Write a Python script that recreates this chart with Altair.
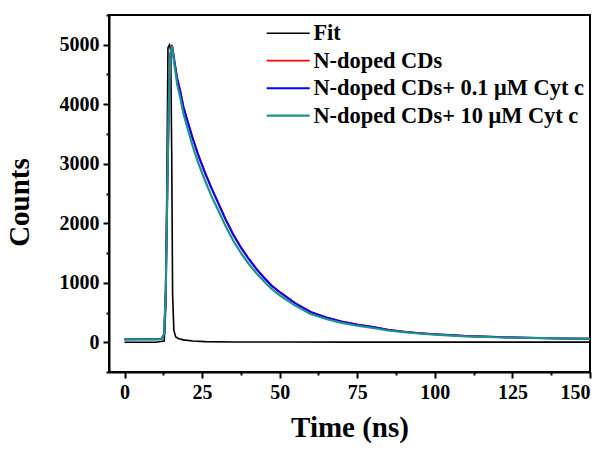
import altair as alt
import pandas as pd

# ---- data ----
labels = ["Fit", "N-doped CDs", "N-doped CDs+ 0.1 \u03bcM Cyt c", "N-doped CDs+ 10 \u03bcM Cyt c"]
colors = ["#000000", "#ff0000", "#0000ff", "#1f9188"]
widths = [1.6, 2.2, 2.2, 3.0]

t_irf = [0, 5, 10, 12.8, 13.3, 13.7, 14.0, 14.5, 14.9, 15.2, 15.5, 15.9, 16.5, 17.5, 19,
         22, 26, 35, 50, 75, 100, 125, 150]
c_irf = [0, 0, 0, 20, 600, 3000, 4950, 5000, 4900, 3200, 800, 200, 90, 60, 40,
         20, 10, 5, 3, 2, 2, 2, 2]

t_dec = [0, 5, 10, 12, 12.8, 13.3, 13.8, 14.3, 14.8, 15.3, 16, 17, 18, 19, 20, 22, 24, 26,
         28, 30, 32.5, 35, 37.5, 40, 42.5, 45, 47.5, 50, 55, 60, 65, 70, 75, 80, 85, 90,
         95, 100, 110, 120, 130, 140, 150]
c_cds = [50, 52, 50, 55, 150, 900, 2600, 4100, 4850, 5000, 4730, 4430, 4230, 3960, 3780,
         3430, 3120, 2850, 2600, 2370, 2080, 1820, 1600, 1410, 1240, 1090, 950, 850, 660,
         510, 420, 350, 300, 260, 210, 180, 155, 135, 105, 88, 75, 66, 60]
c_01 = [52, 50, 53, 56, 140, 880, 2580, 4080, 4830, 4990, 4760, 4420, 4200, 3950, 3770,
        3420, 3110, 2840, 2590, 2360, 2070, 1810, 1590, 1400, 1230, 1080, 945, 840, 655,
        505, 415, 345, 295, 255, 208, 178, 153, 133, 104, 87, 74, 65, 60]
c_10 = [48, 49, 47, 52, 145, 890, 2590, 4090, 4840, 4980, 4700, 4330, 4100, 3840, 3650,
        3290, 2980, 2710, 2460, 2240, 1960, 1710, 1500, 1320, 1160, 1020, 890, 790, 615,
        475, 390, 325, 278, 240, 198, 170, 147, 128, 100, 84, 72, 64, 58]

x_major = [0, 25, 50, 75, 100, 125, 150]
x_minor = [12.5, 37.5, 62.5, 87.5, 112.5, 137.5]
y_major = [0, 1000, 2000, 3000, 4000, 5000]
y_minor = [-500, 500, 1500, 2500, 3500, 4500, 5500]

rows = []
for t, c in zip(t_irf, c_irf):
    rows.append({"t": t, "c": c, "s": labels[0], "o": 0})
for k, series in enumerate([c_cds, c_01, c_10], start=1):
    for t, c in zip(t_dec, series):
        rows.append({"t": t, "c": c, "s": labels[k], "o": k})
df = pd.DataFrame(rows)

FONT = "Liberation Serif"

xs = alt.Scale(domain=[-5, 150], nice=False, zero=False)
ys = alt.Scale(domain=[-500, 5500], nice=False, zero=False)

lines = alt.Chart(df).mark_line(clip=True).encode(
    x=alt.X("t:Q", scale=xs, title="Time (ns)",
            axis=alt.Axis(values=x_major, format="d", tickSize=6, tickWidth=2,
                          domainWidth=2, domainColor="black", tickColor="black",
                          labelFont=FONT, labelFontSize=20, labelFontWeight="bold",
                          labelColor="black", labelPadding=4, grid=False,
                          titleFont=FONT, titleFontSize=29, titleFontWeight="bold",
                          titleColor="black", titlePadding=11)),
    y=alt.Y("c:Q", scale=ys, title="Counts",
            axis=alt.Axis(values=y_major, format="d", tickSize=6, tickWidth=2,
                          domainWidth=2, domainColor="black", tickColor="black",
                          labelFont=FONT, labelFontSize=20, labelFontWeight="bold",
                          labelColor="black", labelPadding=4, grid=False,
                          titleFont=FONT, titleFontSize=29, titleFontWeight="bold",
                          titleColor="black", titlePadding=25, titleY=187)),
    color=alt.Color("s:N", scale=alt.Scale(domain=labels, range=colors),
                    legend=alt.Legend(title=None, orient="none", legendX=168, legendY=7,
                                      symbolType="M-2.5,0H2.5", symbolSize=296,
                                      symbolStrokeWidth=2, labelFont=FONT,
                                      labelFontSize=22.4, labelFontWeight="bold",
                                      labelColor="black", labelLimit=500, rowPadding=4.5,
                                      labelOffset=14, padding=0)),
    strokeWidth=alt.StrokeWidth("s:N", scale=alt.Scale(domain=labels, range=widths),
                                legend=None),
    detail="o:O",
    order="o:Q",
)

minor = alt.Chart(df).mark_point(opacity=0).encode(
    x=alt.X("t:Q", scale=xs, title=None,
            axis=alt.Axis(values=x_minor, orient="bottom", labels=False, domain=False,
                          tickSize=3, tickWidth=2, tickColor="black", grid=False)),
    y=alt.Y("c:Q", scale=ys, title=None,
            axis=alt.Axis(values=y_minor, orient="left", labels=False, domain=False,
                          tickSize=3, tickWidth=2, tickColor="black", grid=False)),
)

chart = alt.layer(lines, minor).resolve_axis(x="independent", y="independent").properties(
    width=481, height=357,
    autosize=alt.AutoSizeParams(type="none"),
    padding={"left": 109, "top": 15, "right": 19, "bottom": 81},
    background="white",
).configure_view(stroke="black", strokeWidth=2)

chart.save("out.html", embed_options={"renderer": "svg", "actions": False})
